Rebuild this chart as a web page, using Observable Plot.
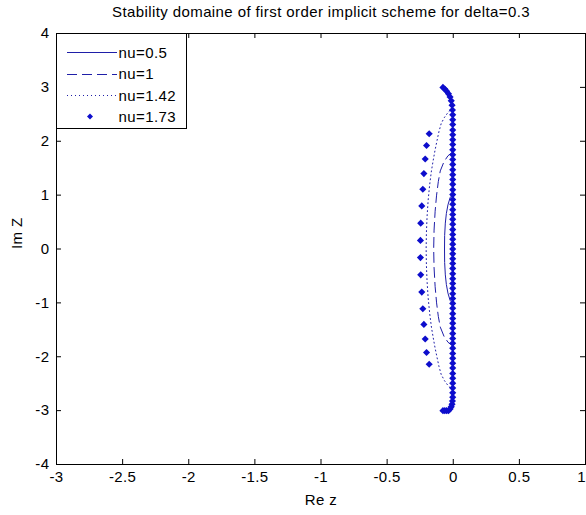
<!DOCTYPE html>
<html>
<head>
<meta charset="utf-8">
<script src="https://cdn.jsdelivr.net/npm/d3@7"></script>
<script src="https://cdn.jsdelivr.net/npm/@observablehq/plot@0.6"></script>
<style>
  html, body { margin: 0; padding: 0; background: #fff; }
  #wrap { position: relative; width: 586px; height: 515px; }
  #wrap svg text { letter-spacing: 0.4px; }
  #legend { position: absolute; left: 0; top: 0; }
</style>
</head>
<body>
<div id="wrap"></div>
<script>
const titleText = "Stability domaine of first order implicit scheme for delta=0.3";
const xLabel = "Re z";
const yLabel = "Im Z";
const xTicks = [-3, -2.5, -2, -1.5, -1, -0.5, 0, 0.5, 1];
const yTicks = [-4, -3, -2, -1, 0, 1, 2, 3, 4];
const seriesNames = ["nu=0.5", "nu=1", "nu=1.42", "nu=1.73"];

// nu=0.5 (solid line)
const nu05X = [-0.004, -0.023, -0.040, -0.052, -0.060, -0.065, -0.066, -0.065, -0.060, -0.052, -0.040, -0.023, -0.004, -0.004];
const nu05Y = [1.00, 0.96, 0.82, 0.66, 0.48, 0.25, 0.00, -0.25, -0.48, -0.66, -0.82, -0.96, -1.00, 1.00];

// nu=1 (dashed line)
const nu1X = [-0.004, -0.040, -0.070, -0.098, -0.113, -0.126, -0.137, -0.145, -0.148, -0.145, -0.137, -0.126, -0.113, -0.098, -0.070, -0.040, -0.004, -0.004];
const nu1Y = [1.80, 1.73, 1.62, 1.45, 1.25, 1.00, 0.70, 0.35, 0.00, -0.35, -0.70, -1.00, -1.25, -1.45, -1.62, -1.73, -1.80, 1.80];

// nu=1.42 (dotted line)
const nu142X = [-0.004, -0.035, -0.066, -0.091, -0.108, -0.122, -0.138, -0.152, -0.165, -0.178, -0.190, -0.198, -0.203, -0.205, -0.203, -0.198, -0.190, -0.178, -0.165, -0.152, -0.138, -0.122, -0.108, -0.091, -0.066, -0.035, -0.004, -0.004];
const nu142Y = [2.62, 2.55, 2.445, 2.33, 2.18, 2.02, 1.83, 1.64, 1.45, 1.20, 0.90, 0.60, 0.30, 0.00, -0.30, -0.60, -0.90, -1.20, -1.45, -1.64, -1.83, -2.02, -2.18, -2.33, -2.445, -2.55, -2.62, 2.62];

// nu=1.73 (diamond markers)
const nu173X = [
  -0.078, -0.064, -0.050, -0.036, -0.024, -0.015, -0.009, -0.006,
  -0.004, -0.004, -0.004, -0.004, -0.004, -0.004, -0.004, -0.004, -0.004, -0.004,
  -0.004, -0.004, -0.004, -0.004, -0.004, -0.004, -0.004, -0.004, -0.004, -0.004,
  -0.004, -0.004, -0.004, -0.004, -0.004, -0.004, -0.004, -0.004, -0.004,
  -0.004, -0.004, -0.004, -0.004, -0.004, -0.004, -0.004, -0.004, -0.004,
  -0.004, -0.004, -0.004, -0.004, -0.004, -0.004, -0.004, -0.004, -0.004, -0.004,
  -0.004, -0.004, -0.004, -0.004, -0.004, -0.004, -0.004, -0.004, -0.004, -0.004,
  -0.006, -0.009, -0.015, -0.024, -0.036, -0.050, -0.064, -0.078,
  -0.182, -0.202, -0.212, -0.222, -0.230, -0.238, -0.246, -0.248,
  -0.248, -0.246, -0.238, -0.230, -0.222, -0.212, -0.202, -0.182
];
const nu173Y = [
  3.00, 2.97, 2.93, 2.88, 2.82, 2.75, 2.67, 2.58,
  2.49, 2.40, 2.31, 2.21, 2.12, 2.03, 1.94, 1.84, 1.75, 1.66,
  1.57, 1.47, 1.38, 1.29, 1.20, 1.10, 1.01, 0.92, 0.83, 0.73,
  0.64, 0.55, 0.46, 0.36, 0.27, 0.18, 0.09, 0.00, -0.09,
  -0.18, -0.27, -0.36, -0.46, -0.55, -0.64, -0.73, -0.83, -0.92,
  -1.01, -1.10, -1.20, -1.29, -1.38, -1.47, -1.57, -1.66, -1.75, -1.84,
  -1.94, -2.03, -2.12, -2.21, -2.31, -2.40, -2.49, -2.58, -2.67, -2.75,
  -2.82, -2.88, -2.93, -2.97, -3.00, -3.00, -3.00, -3.00,
  2.14, 1.92, 1.67, 1.40, 1.11, 0.80, 0.48, 0.16,
  -0.16, -0.48, -0.80, -1.11, -1.40, -1.67, -1.92, -2.14
];

const lineColor = "#1f1fa8";
const dotColor = "#0d0dcc";
const FONT = "'Liberation Sans', Arial, sans-serif";
const FS = 15;

const toRows = (xs, ys) => xs.map((x, i) => ({x, y: ys[i]}));
const s05 = toRows(nu05X, nu05Y);
const s1 = toRows(nu1X, nu1Y);
const s142 = toRows(nu142X, nu142Y);
const s173 = toRows(nu173X, nu173Y);

const W = 586, H = 515;
const mL = 56, mR = 1, mT = 33, mB = 51;
const frameW = W - mL - mR, frameH = H - mT - mB;
const tickLen = 5;
const lastX = xTicks[xTicks.length - 1];

const chart = Plot.plot({
  width: W,
  height: H,
  marginLeft: mL,
  marginRight: mR,
  marginTop: mT,
  marginBottom: mB,
  style: {background: "#fff", fontFamily: FONT, fontSize: FS + "px", color: "#000"},
  x: {domain: [-3, 1]},
  y: {domain: [-4, 4]},
  marks: [
    Plot.line(s05, {x: "x", y: "y", stroke: lineColor, strokeWidth: 1}),
    Plot.line(s1, {x: "x", y: "y", stroke: lineColor, strokeWidth: 1, strokeDasharray: "10,5"}),
    Plot.line(s142, {x: "x", y: "y", stroke: lineColor, strokeWidth: 1, strokeDasharray: "1,3"}),
    Plot.dot(s173, {x: "x", y: "y", symbol: "diamond2", r: 3.2, fill: dotColor, stroke: "none"}),
    // inward ticks on all four sides
    Plot.tickX(xTicks, {x: d => d, insetTop: frameH - tickLen, stroke: "#000"}),
    Plot.tickX(xTicks, {x: d => d, insetBottom: frameH - tickLen, stroke: "#000"}),
    Plot.tickY(yTicks, {y: d => d, insetRight: frameW - tickLen, stroke: "#000"}),
    Plot.tickY(yTicks, {y: d => d, insetLeft: frameW - tickLen, stroke: "#000"}),
    Plot.axisX(xTicks.filter(d => d !== lastX), {tickSize: 0, tickPadding: 7, tickFormat: d => String(d), label: null, fill: "#000"}),
    Plot.axisX([lastX], {tickSize: 0, tickPadding: 7, tickFormat: d => String(d), label: null, fill: "#000", dx: -4}),
    Plot.axisY(yTicks, {tickSize: 0, tickPadding: 7, tickFormat: d => String(d), label: null, fill: "#000"}),
    Plot.frame({stroke: "#000", strokeWidth: 1}),
    Plot.text([titleText], {frameAnchor: "top", dy: -21, text: d => d, fill: "#000", fontSize: FS, lineAnchor: "middle"}),
    Plot.text([xLabel], {frameAnchor: "bottom", dy: 36, text: d => d, fill: "#000", fontSize: FS, lineAnchor: "middle"}),
    Plot.text([yLabel], {frameAnchor: "left", dx: -39, text: d => d, fill: "#000", fontSize: FS, rotate: -90, lineAnchor: "middle"})
  ]
});

const wrap = document.getElementById("wrap");
wrap.appendChild(chart);

// Legend box (upper-left, inside the axes)
const ns = "http://www.w3.org/2000/svg";
const leg = document.createElementNS(ns, "svg");
leg.setAttribute("id", "legend");
leg.setAttribute("width", W);
leg.setAttribute("height", H);
leg.style.pointerEvents = "none";
const lx = mL + 0.5, ly = mT + 0.5, lw = 130, lh = 95;
const box = document.createElementNS(ns, "rect");
box.setAttribute("x", lx); box.setAttribute("y", ly);
box.setAttribute("width", lw); box.setAttribute("height", lh);
box.setAttribute("fill", "#fff"); box.setAttribute("stroke", "#000");
leg.appendChild(box);
const dashes = [null, "10,5", "1,3", "marker"];
seriesNames.forEach((name, i) => {
  const cy = mT + 19 + i * 21.5;
  if (dashes[i] === "marker") {
    const m = document.createElementNS(ns, "path");
    const cx = mL + 34;
    m.setAttribute("d", `M${cx},${cy - 3} L${cx + 3},${cy} L${cx},${cy + 3} L${cx - 3},${cy} Z`);
    m.setAttribute("fill", dotColor);
    leg.appendChild(m);
  } else {
    const l = document.createElementNS(ns, "line");
    l.setAttribute("x1", mL + 11); l.setAttribute("x2", mL + 61);
    l.setAttribute("y1", Math.round(cy) + 0.5); l.setAttribute("y2", Math.round(cy) + 0.5);
    l.setAttribute("stroke", lineColor);
    if (dashes[i]) l.setAttribute("stroke-dasharray", dashes[i]);
    leg.appendChild(l);
  }
  const t = document.createElementNS(ns, "text");
  t.setAttribute("x", mL + 62.5);
  t.setAttribute("y", cy);
  t.setAttribute("dominant-baseline", "central");
  t.setAttribute("font-family", FONT);
  t.setAttribute("font-size", FS);
  t.setAttribute("fill", "#000");
  t.textContent = name;
  leg.appendChild(t);
});
wrap.appendChild(leg);
</script>
</body>
</html>
